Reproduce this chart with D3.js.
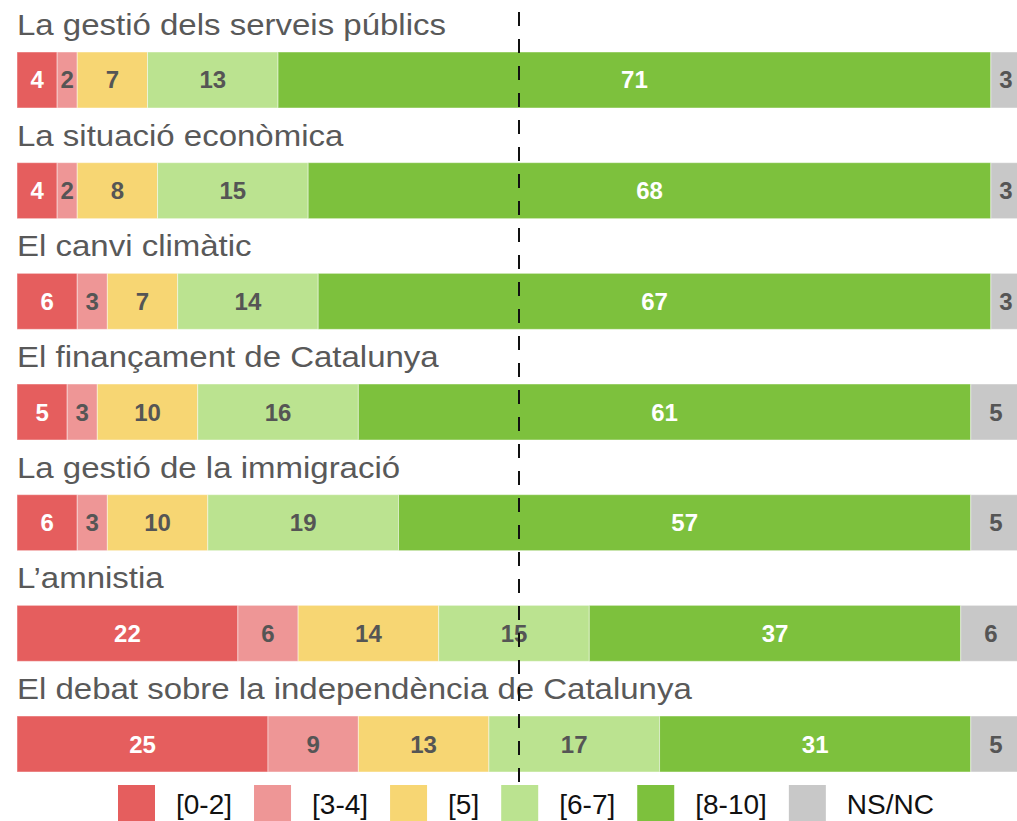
<!DOCTYPE html>
<meta charset="utf-8">
<style>
body { margin: 0; background: #fff; }
.titol { font-family: "Liberation Sans", Arial, sans-serif; font-size: 30px; fill: #595959; }
.valor { font-family: "Liberation Sans", Arial, sans-serif; font-size: 24px; font-weight: bold; text-anchor: middle; }
.llegenda text { font-family: "Liberation Sans", Arial, sans-serif; font-size: 28px; fill: #111; }
</style>

<svg width="1017" height="821"></svg>

<script src="https://d3js.org/d3.v7.min.js"></script>
<script>

var temes = [
  "La gestió dels serveis públics",
  "La situació econòmica",
  "El canvi climàtic",
  "El finançament de Catalunya",
  "La gestió de la immigració",
  "L\u2019amnistia",
  "El debat sobre la independència de Catalunya"
];

var categories = ["[0-2]", "[3-4]", "[5]", "[6-7]", "[8-10]", "NS/NC"];

// percentatges per categoria, en l'ordre dels temes
var v02   = [4, 4, 6, 5, 6, 22, 25];
var v34   = [2, 2, 3, 3, 3, 6, 9];
var v5    = [7, 8, 7, 10, 10, 14, 13];
var v67   = [13, 15, 14, 16, 19, 15, 17];
var v810  = [71, 68, 67, 61, 57, 37, 31];
var vnsnc = [3, 3, 3, 5, 5, 6, 5];

var colors = ["#e55e5e", "#ee9696", "#f7d673", "#bbe390", "#7dc13d", "#c8c8c8"];
var colorText = ["#fff", "#555", "#555", "#555", "#fff", "#555"];

var series = [v02, v34, v5, v67, v810, vnsnc];

var dades = temes.map(function(t, i) {
  var d = {tema: t};
  categories.forEach(function(c, j) { d[c] = series[j][i]; });
  return d;
});

var svg = d3.select("svg");

var x = d3.scaleLinear().domain([0, 100]).range([17, 1021]);
var y = d3.scaleBand().domain(temes).range([52, 772]).paddingInner(0.494).paddingOuter(0);

var stack = d3.stack().keys(categories)(dades);

// titols
svg.append("g")
  .selectAll("text")
  .data(temes)
  .enter()
  .append("text")
    .attr("class", "titol")
    .attr("transform", d => "translate(17," + (y(d) - 17) + ") scale(1.1,1)")
    .text(d => d);

var capes = svg.append("g")
  .selectAll("g")
  .data(stack)
  .enter()
  .append("g")
    .attr("fill", (d, i) => colors[i]);

capes.selectAll("rect")
  .data(d => d)
  .enter()
  .append("rect")
    .attr("x", d => x(d[0]))
    .attr("y", d => y(d.data.tema))
    .attr("width", d => x(d[1]) - x(d[0]))
    .attr("height", y.bandwidth())
    .attr("stroke", "#fff")
    .attr("stroke-opacity", 0.45)
    .attr("stroke-width", 1);

capes.each(function(s, i) {
  d3.select(this).selectAll("text")
    .data(s)
    .enter()
    .append("text")
      .attr("class", "valor")
      .attr("fill", colorText[i])
      .attr("x", d => (x(d[0]) + x(d[1])) / 2)
      .attr("y", d => y(d.data.tema) + y.bandwidth() / 2 + 8.5)
      .text(d => d[1] - d[0]);
});

// linia del 50%
svg.append("line")
  .attr("x1", x(50)).attr("x2", x(50))
  .attr("y1", 12).attr("y2", 790)
  .attr("stroke", "#111")
  .attr("stroke-width", 2)
  .attr("stroke-dasharray", "14,13");

// llegenda
var lleg = svg.append("g").attr("class", "llegenda");
var px = 118;
categories.forEach(function(c, i) {
  lleg.append("rect")
    .attr("x", px).attr("y", 785)
    .attr("width", 37).attr("height", 36)
    .attr("fill", colors[i]);
  var t = lleg.append("text")
    .attr("x", px + 58)
    .attr("y", 814)
    .text(c);
  px += 58 + t.node().getComputedTextLength() + 22;
});

</script>
